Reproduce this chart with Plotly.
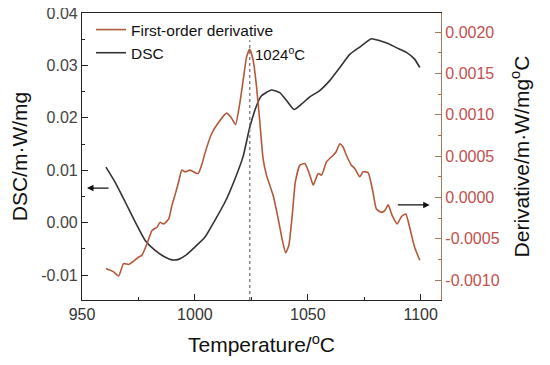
import plotly.graph_objects as go

# DSC curve (left axis)
dsc_T = [960.6, 964.7, 969.2, 973.6, 978.0, 982.4, 986.9, 989.8, 992.8, 995.7, 1000.1,
         1004.4, 1008.8, 1013.3, 1017.7, 1021.4, 1024.3, 1027.3, 1029.5, 1033.9, 1037.6,
         1040.6, 1043.9, 1047.2, 1050.9, 1055.3, 1059.7, 1064.2, 1068.6, 1073.0, 1078.2,
         1081.9, 1085.5, 1089.2, 1093.7, 1097.3, 1099.6]
dsc_V = [0.0106, 0.0077, 0.0039, 0.0001, -0.0034, -0.0053, -0.0066, -0.0071, -0.0070, -0.0063, -0.0046,
         -0.0028, 0.0004, 0.0039, 0.0083, 0.0127, 0.0182, 0.0223, 0.0242, 0.0253, 0.0248,
         0.0233, 0.0216, 0.0226, 0.0240, 0.0252, 0.0271, 0.0296, 0.0321, 0.0335, 0.0351,
         0.0347, 0.0342, 0.0334, 0.0325, 0.0312, 0.0296]

# First-order derivative (right axis)
der_T = [960.6, 964.0, 966.2, 968.4, 970.6, 972.9, 975.1, 976.5, 978.8, 981.0, 983.2, 984.6,
         986.1, 988.4, 989.8, 991.3, 992.8, 994.2, 995.7, 997.9, 1000.1, 1001.5, 1003.1,
         1004.4, 1007.4, 1010.3, 1014.0, 1016.2, 1018.0, 1019.9, 1021.4, 1022.9, 1024.3,
         1025.8, 1027.3, 1028.8, 1030.2, 1031.7, 1034.7, 1036.9, 1038.6, 1040.2, 1041.6,
         1043.1, 1044.5, 1046.5, 1048.7, 1050.9, 1052.4, 1054.6, 1056.1, 1058.3, 1061.2,
         1062.5, 1064.2, 1065.6, 1067.1, 1069.3, 1070.8, 1073.0, 1074.5, 1076.7, 1078.9,
         1080.4, 1082.6, 1084.1, 1085.6, 1087.4, 1089.6, 1091.5, 1093.4, 1095.1, 1097.3, 1099.6]
der_V = [-0.00086, -0.00090, -0.00095, -0.00080, -0.00081, -0.00077, -0.00072, -0.00070, -0.00056,
         -0.00040, -0.00036, -0.00030, -0.00032, -0.00026, -0.00010, 0.00004, 0.00019, 0.00033,
         0.00031, 0.00033, 0.00030, 0.00029, 0.00040,
         0.00053, 0.00077, 0.00090, 0.00102, 0.00096, 0.00088, 0.00114, 0.00142, 0.00170, 0.00179,
         0.00166, 0.00134, 0.00090, 0.00047, 0.00027, 0.00002, -0.00026, -0.00050, -0.00067, -0.00058,
         -0.00022, 0.00019, 0.00039, 0.00041, 0.00027, 0.00015, 0.00029, 0.00027, 0.00043, 0.00051,
         0.00055, 0.00065, 0.00061, 0.00051, 0.00039, 0.00035, 0.00025, 0.00031, 0.00030, 0.00006,
         -0.00014, -0.00018, -0.00016, -0.00009, -0.00022, -0.00032, -0.00023, -0.00020, -0.00036,
         -0.00060, -0.00076]

x_ticks = [950, 1000, 1050, 1100]
left_ticks = [-0.01, 0.00, 0.01, 0.02, 0.03, 0.04]
left_labels = ["-0.01", "0.00", "0.01", "0.02", "0.03", "0.04"]
right_ticks = [-0.0010, -0.0005, 0.0, 0.0005, 0.0010, 0.0015, 0.0020]
right_labels = ["-0.0010", "-0.0005", "0.0000", "0.0005", "0.0010", "0.0015", "0.0020"]

peak_T = 1024.3
peak_label = "1024<sup>o</sup>C"

DER_COLOR = "#b3593a"
RTICK_COLOR = "#c0504d"
FONT = "Liberation Sans, Arial, sans-serif"

fig = go.Figure()
fig.add_trace(go.Scatter(x=der_T, y=der_V, mode="lines", name="First-order derivative",
                         line=dict(color=DER_COLOR, width=1.6, shape="spline", smoothing=0.5),
                         yaxis="y2"))
fig.add_trace(go.Scatter(x=dsc_T, y=dsc_V, mode="lines", name="DSC",
                         line=dict(color="#333333", width=1.6, shape="spline", smoothing=0.5),
                         yaxis="y"))

# dashed vertical marker at peak
fig.add_trace(go.Scatter(x=[peak_T, peak_T], y=[-0.00124, 0.00190], mode="lines",
                         line=dict(color="#777777", width=1.3, dash="dot"),
                         yaxis="y2", showlegend=False, hoverinfo="skip"))

# page body has an 8px default margin, so the figure is sized 542x357
fig.update_layout(
    width=542, height=357,
    margin=dict(l=74, r=109, t=5, b=65),
    paper_bgcolor="white", plot_bgcolor="white",
    font=dict(family=FONT, size=16, color="#333333"),
    showlegend=True,
    legend=dict(x=0.025, y=1.0, xanchor="left", yanchor="top", bgcolor="rgba(0,0,0,0)",
                font=dict(size=15.5, color="#111111"), itemwidth=30, tracegroupgap=0),
    xaxis=dict(range=[950, 1109], tickvals=x_ticks, ticks="inside", ticklen=6,
               automargin=False, ticklabeloverflow="allow",
               showline=True, linecolor="#222222", linewidth=1.2, mirror=True,
               showgrid=False, zeroline=False,
               minor=dict(dtick=25, ticks="inside", ticklen=3, tickcolor="#222222"),
               tickcolor="#222222",
               title=dict(text="Temperature/<sup>o</sup>C", font=dict(size=21, color="#111111")),
               tickfont=dict(size=16, color="#333333")),
    yaxis=dict(range=[-0.01475, 0.04], tickvals=left_ticks, ticktext=left_labels,
               automargin=False, ticklabeloverflow="allow",
               ticks="inside", ticklen=6, tickcolor="#222222",
               showline=True, linecolor="#222222", linewidth=1.2,
               showgrid=False, zeroline=False,
               minor=dict(dtick=0.005, tick0=0, ticks="inside", ticklen=3, tickcolor="#222222"),
               title=dict(text="DSC/m·W/mg", font=dict(size=21, color="#111111")),
               tickfont=dict(size=16, color="#444444")),
    yaxis2=dict(range=[-0.00124, 0.00223], tickvals=right_ticks, ticktext=right_labels,
                overlaying="y", side="right", automargin=False, ticklabeloverflow="allow",
                ticks="inside", ticklen=6, tickcolor="#a07a5a",
                showline=True, linecolor="#a07a5a", linewidth=1.2,
                showgrid=False, zeroline=False,
                minor=dict(dtick=0.00025, tick0=0, ticks="inside", ticklen=3, tickcolor="#a07a5a"),
                title=dict(text="Derivative/m·W/mg<sup>o</sup>C", font=dict(size=21, color="#111111")),
                tickfont=dict(size=16, color=RTICK_COLOR)),
    annotations=[
        dict(x=peak_T + 1.5, y=0.00174, xref="x", yref="y2", text=peak_label, showarrow=False,
             xanchor="left", yanchor="middle", font=dict(size=15, color="#111111")),
        dict(x=952.2, y=0.0066, xref="x", yref="y", ax=962.4, ay=0.0066, axref="x", ayref="y",
             text="", showarrow=True, arrowhead=2, arrowsize=1, arrowwidth=1.3, arrowcolor="#111111"),
        dict(x=1104.0, y=-0.00009, xref="x", yref="y2", ax=1089.2, ay=-0.00009, axref="x", ayref="y2",
             text="", showarrow=True, arrowhead=2, arrowsize=1, arrowwidth=1.3, arrowcolor="#111111"),
    ],
)

fig.write_html("out.html")
